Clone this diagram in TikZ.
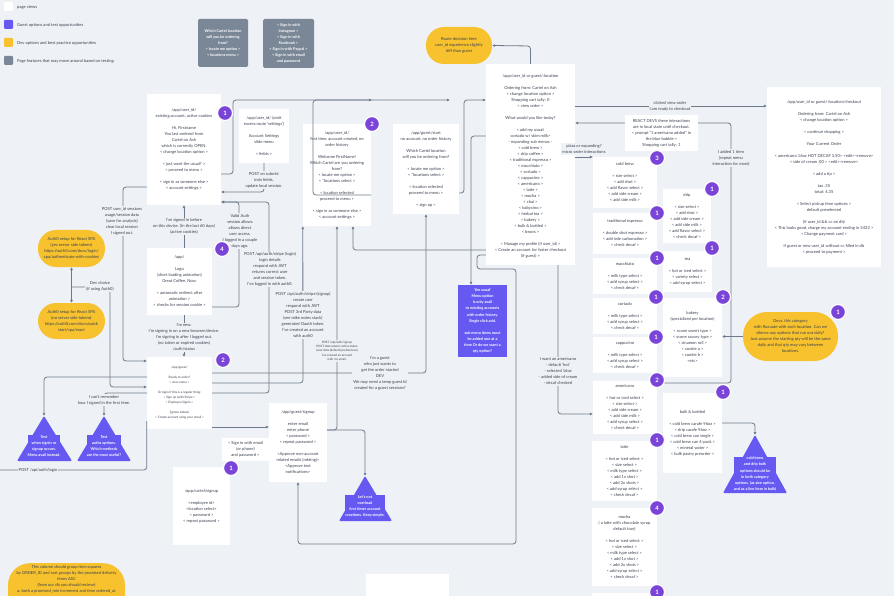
\documentclass[tikz,border=0pt]{standalone}
\usepackage{fontspec}
\setmainfont{Lato}
\usepackage{xcolor}
\usetikzlibrary{arrows.meta}
\definecolor{bgc}{HTML}{EEF1F5}
\definecolor{ink}{HTML}{3A4150}
\definecolor{wire}{HTML}{6C7A8B}
\definecolor{slate}{HTML}{7A8797}
\definecolor{guestp}{HTML}{6659F2}
\definecolor{devy}{HTML}{F7C22E}
\definecolor{badge}{HTML}{7A44D8}

\begin{document}
\begin{tikzpicture}[x=1pt,y=-1pt]
	\tikzstyle{every node}=[align=center,inner sep=0pt,text=ink,font=\fontsize{4.1}{6}\selectfont]
	\tikzstyle{page}=[fill=white]
	\tikzstyle{feat}=[fill=slate,rounded corners=1.5pt,text=white,font=\bfseries\fontsize{3.8}{6}\selectfont]
	\tikzstyle{dev}=[fill=devy]
	\tikzstyle{guest}=[fill=guestp,text=white,font=\bfseries\fontsize{3.8}{6.1}\selectfont]
	\tikzstyle{num}=[circle,fill=badge,draw=white,line width=1.2pt,minimum size=15pt,text=white,font=\bfseries\fontsize{6}{6}\selectfont]
	\tikzstyle{wire}=[draw=wire,line width=0.8pt,rounded corners=3pt,-{Latex[length=3pt,width=3pt]}]
	\tikzstyle{lab}=[fill=bgc,inner sep=1pt]
	\tikzstyle{small}=[font=\fontsize{3.1}{5}\selectfont]
	\tikzstyle{fine}=[font=\fontsize{3}{4.3}\selectfont]
	%\tikzstyle{shadow}=[drop shadow]
	\clip (0,0) rectangle (894,596);
	\fill[bgc] (0,0) rectangle (894,596);

	% legend
	\node[page,minimum size=9pt,rounded corners=1pt] (k1) at (8.5,6.5) {};
	\node[anchor=west] (k1t) at (17,7.5) {page views};
	\node[guest,minimum size=9pt,rounded corners=1pt] (k2) at (8.5,24.5) {};
	\node[anchor=west] (k2t) at (17,25.5) {Guest options and test opportunities};
	\node[dev,minimum size=9pt,rounded corners=1pt] (k3) at (8.5,42.5) {};
	\node[anchor=west] (k3t) at (17,43.5) {Dev options and best practice opportunities};
	\node[fill=slate,minimum size=9pt,rounded corners=1pt] (k4) at (8.5,60.5) {};
	\node[anchor=west] (k4t) at (17,61.5) {Page features that may move around based on testing.};

	\node[feat,minimum width=50pt,minimum height=48pt] (f1) at (223,43) {Which Cartel location\\will you be ordering\\from?\\< locate me option >\\< locations menu >};
	\node[feat,minimum width=51pt,minimum height=49pt] (f2) at (288.5,43.5) {< Sign in with\\Instagram >\\< Sign in with\\Facebook >\\< Sign in with Paypal >\\< Sign in with email\\and password};
	\node[dev,rounded corners=18pt,minimum width=66pt,minimum height=37pt] (route) at (459,45.5) {Route decision here\\user\_id experience slightly\\diff than guest};

	% pages
	\node[page,minimum width=74pt,minimum height=111pt] (usr) at (184,149.5) {/app/user\_id/\\existing account, active cookies\\[6pt]Hi, Firstname\\You last ordered from\\Cartel on Ash\\which is currently OPEN.\\< change location option >\\[6pt]< just want the usual? >\\< proceed to menu >\\[6pt]< sign in as someone else >\\< account settings >};
	\node[page,minimum width=50pt,minimum height=54pt] (set) at (264,136) {/app/user\_id/ (omit\\excess route `settings')\\[6pt]Account Settings\\slide menu\\[6pt]< fields >};
	\node[page,minimum width=68pt,minimum height=102pt] (fst) at (337,175) {/app/user\_id/\\first time, account created, no\\order history\\[6pt]Welcome FirstName!\\Which Cartel are you ordering\\from?\\< locate me option >\\< *locations select >\\[6pt]< location selected\\proceed to menu >\\[6pt]< sign in as someone else >\\< account settings >};
	\node[page,minimum width=66pt,minimum height=90pt] (gsb) at (426,169) {/app/guest/start\\no account, no order history\\[6pt]Which Cartel location\\will you be ordering from?\\[6pt]< locate me option >\\< *locations select >\\[6pt]< location selected\\proceed to menu >\\[6pt]< sign up >};
	\node[page,minimum width=89pt,minimum height=201pt] (loc) at (530.5,164.5) {\mbox{}\\/app/user\_id or guest/:location\\[6pt]Ordering from: Cartel on Ash\\< change location option >\\Shopping cart tally: 0\\< view order >\\[6pt]What would you like today?\\[6pt]< add my usual:\\cortado w/ skim milk>\\- expanding sub menus -\\< cold brew >\\< drip coffee >\\< traditional espresso >\\< macchiato >\\< cortado >\\< cappucino >\\< americano >\\< latte >\\< mocha >\\< chai >\\< babycino >\\< herbal tea >\\< bakery >\\< bulk \& bottled >\\< beans >\\[6pt]< Manage my profile (if user\_id) >\\< Create an account for faster checkout\\(if guest) >};
	\node[page,minimum width=114pt,minimum height=180pt] (chk) at (824,177) {/app/user\_id or guest/:location/checkout\\[6pt]Ordering from: Cartel on Ash\\< change location option >\\[6pt]< continue shopping >\\[6pt]Your Current Order\\[6pt]< americano 16oz HOT DECAF 3.50> <edit><remove>\\< side of cream .00 > <edit><remove>\\[6pt]< add a tip >\\[6pt]tax .35\\total: 4.35\\[6pt]< Select pickup time options >\\default preselected\\[6pt](if user\_id \&\& cc on db)\\< This looks good, charge my account ending in 5432 >\\< Change payment card >\\[6pt]if guest or new user\_id without cc filled in db\\< proceed to payment >};
	\node[page,minimum width=65pt,minimum height=67pt] (logo) at (179.5,281.5) {/app/\\[6pt]Logo\\(short loading animation)\\Great Coffee, Now.\\[6pt]< automatic redirect after\\animation >\\< checks for session cookie >};
	\node[page,small,minimum width=65pt,minimum height=72pt] (gst) at (179.5,393) {/app/guest/\\[5pt]Ready to order?\\< view menu >\\[5pt]Or login if this is a regular thing:\\< Sign up (with Stripe >\\< Employee Signin >\\[5pt](Ignore below)\\< Create account using your email >};
	\node[page,minimum width=58pt,minimum height=79pt] (gsu) at (298,442.5) {/app/guest/signup\\[6pt]enter email\\enter phone\\< password >\\< repeat password >\\[6pt]<Approve non-account\\related emails (mkting)>\\<Approve text\\notifications>};
	\node[page,minimum width=57pt,minimum height=78pt] (csu) at (201.5,506) {/app/cartel/signup\\[6pt]<employee id>\\<location select>\\< password >\\< repeat password >};
	\node[page,minimum width=47pt,minimum height=23pt] (sgn) at (245.5,449.5) {< Sign in with email\\(or phone)\\and password >};
	\node[guest,minimum width=49pt,minimum height=72pt] (usual) at (482.5,321) {'the usual'\\Menu option\\is only avail\\to existing accounts\\with order history.\\Single click add.\\[6pt]sub menu items must\\be added one at a\\time Or do we want a\\qty option?};
	\node[page,minimum width=83pt,minimum height=40pt,anchor=north west] (blank) at (366,574) {};

	% menu items
	\node[page,minimum width=64pt,minimum height=51pt] (cold) at (625,182.5) {cold brew\\[6pt]< size select >\\< add shot >\\< add flavor select >\\< add side cream >\\< add side milk >};
	\node[page,minimum width=64pt,minimum height=41pt] (trad) at (625,233.5) {traditional espresso\\[6pt]< double shot espresso >\\< add side carbonation >\\< check decaf >};
	\node[page,minimum width=64pt,minimum height=36pt] (mac) at (625,276) {macchiato\\[6pt]< milk type select >\\< add syrup select >\\< check decaf >};
	\node[page,minimum width=64pt,minimum height=36pt] (cort) at (625,316) {cortado\\[6pt]< milk type select >\\< add syrup select >\\< check decaf >};
	\node[page,minimum width=64pt,minimum height=36pt] (capp) at (625,355) {cappucino\\[6pt]< milk type select >\\< add syrup select >\\< check decaf >};
	\node[page,minimum width=64pt,minimum height=53pt] (amer) at (625,407.5) {americano\\[6pt]< hot or iced select >\\< size select >\\< add side cream >\\< add side milk >\\< add syrup select >\\< check decaf >};
	\node[page,minimum width=65pt,minimum height=60pt] (latte) at (624.5,471) {latte\\[6pt]< hot or iced select >\\< size select >\\< milk type select >\\< add 1x shot >\\< add 2x shots >\\< add syrup select >\\< check decaf >};
	\node[page,minimum width=65pt,minimum height=78pt] (mocha) at (624.5,547) {mocha\\( a latte with chocolate syrup\\default true)\\[6pt]< hot or iced select >\\< size select >\\< milk type select >\\< add 1x shot >\\< add 2x shots >\\< add syrup select >\\< check decaf >};
	\node[page,minimum width=65pt,minimum height=30pt,anchor=north west] (more) at (592,593) {};
	\node[page,minimum width=48pt,minimum height=54pt] (drip) at (687,216) {drip\\[6pt]< size select >\\< add shot >\\< add side cream >\\< add side milk >\\< add flavor select >\\< check decaf >};
	\node[page,minimum width=49pt,minimum height=41pt] (tea) at (687.5,271.5) {tea\\[6pt]< hot or iced select >\\< variety select >\\< add syrup select >};
	\node[page,minimum width=59pt,minimum height=79pt] (bak) at (692.5,337.5) {bakery\\(specialized per location)\\[6pt]< scone sweet type >\\< scone savory type >\\< cinamon roll >\\< cookie a >\\< cookie b >\\<etc>};
	\node[page,minimum width=59pt,minimum height=80pt] (bulk) at (692.5,433) {bulk \& bottled\\[6pt]< cold brew carafe 96oz >\\< drip carafe 96oz >\\< cold brew can single >\\< cold brew can 4-pack >\\< mineral water >\\< bulk pastry preorder >};

	% dev notes
	\node[dev,rounded corners=18pt,minimum width=67pt,minimum height=37pt] (pa1) at (71.5,248.5) {Auth0 setup for React SPA\\(yes server side tokens)\\https://auth0.com/docs/login/\\spa/authenticate-with-cookies};
	\node[dev,rounded corners=18pt,minimum width=67pt,minimum height=36pt] (pa2) at (71.5,321) {Auth0 setup for React SPA\\(no server side tokens)\\https://auth0.com/docs/quick\\start/spa/react};
	\node[dev,rounded corners=24pt,minimum width=95pt,minimum height=49pt] (devs) at (790.5,336.5) {Devs, this category\\with fluxuate with each location. Can we\\silence any options that run out daily?\\Just assume the starting qty will be the same\\daily and that qty may vary between\\locations.};
	\node[dev,rounded corners=22pt,minimum width=117pt,inner ysep=2.5pt,anchor=north] (col) at (66.5,563) {This column should group item squares\\by ORDER\_ID and sort groups by the promised delivery\\times ASC\\(from our db you should recieve)\\a. both a promised\_min increment and time ordered\_at\\[14pt]};

	% test triangles
	\coordinate (t1) at (44,416);
	\coordinate (t2) at (104,416);
	\coordinate (ts) at (365,476);
	\coordinate (tb) at (755,435);
	\fill[guestp,rounded corners=1pt] (t1) -- (72,461) -- (17,461) -- cycle;
	\fill[guestp,rounded corners=1pt] (t2) -- (131,461) -- (77,461) -- cycle;
	\fill[guestp,rounded corners=1pt] (ts) -- (392,521) -- (339,521) -- cycle;
	\fill[guestp,rounded corners=1pt] (tb) -- (787,493) -- (723,493) -- cycle;
	\node[guest] (t1t) at (44,446) {Test\\when signin or\\signup occurs.\\Menu avail instead.};
	\node[guest] (t2t) at (104,446) {Test\\auths options.\\Which methods\\are the most useful?};
	\node[guest] (tst) at (365,506) {Let's not\\overload\\first timer account\\creations. Keep simple.};
	\node[guest] (tbt) at (755,474) {cold brew\\and drip bulk\\options should be\\in both category\\options. (as size option,\\and as a line item in bulk)};

	% connectors
	\coordinate (e1) at (372,100);
	\coordinate (e2) at (450,100);
	\coordinate (dc) at (71.5,287);
	\coordinate (lg) at (0,470);
	\draw[wire] (usr.east |- 0,174) -- (233,174) -- (233,100) -- (e1);
	\draw[wire] (fst.east |- 0,195) -- (313,195) -- (313,100) -- (e2);
	\draw[wire] (gsb.east |- 0,193) -- (464,193) -- (464,100) -- (loc.west |- 0,100);
	\draw[wire] (set.south) -- (264,192) -- (usr.east |- 0,192);
	\draw[wire] (usr.west |- 0,187) -- (123,187) -- (123,361) -- (gst.west |- 0,361);
	\draw[wire] (usr.south |- logo.north) -- (usr.south);
	\draw[wire] (usr.south |- logo.south) -- (usr.south |- gst.north);
	\draw[wire] (logo.east |- 0,307) -- (239,307) -- (239,202) -- (usr.east |- 0,202);
	\draw[wire] (gst.east |- 0,393) -- (269,393) -- (269,202) -- (usr.east |- 0,202);
	\draw[wire] (gst.east |- 0,383) -- (303,383) -- (fst.south west);
	\draw[wire] (gst.east |- 0,373) -- (426,373) -- (gsb.south);
	\draw[wire] (loc.west |- 0,250) -- (353,250) -- (fst.south -| 353,0);
	\draw[wire] (loc.west |- 0,136) -- (471,136) -- (usual.north -| 471,0);
	\draw[wire] (loc.west |- 0,255) -- (477,255) -- (477,269) -- (516,269) -- (516,544) -- (298,544) -- (gsu.south);
	\draw[wire] (gsu.east |- 0,430) -- (337,430) -- (fst.south -| 337,0);
	\draw[wire] (gsu.east |- 0,430) -- (365,430) -- (ts);
	\draw[wire] (gst.east |- 0,427) -- (gsu.west |- 0,427);
	\draw[wire,{Latex[length=3pt,width=3pt]}-{Latex[length=3pt,width=3pt]}] (pa1.south) -- (pa2.north);
	\draw[wire] (dc) -- (110,287) -- (110,387) -- (gst.west |- 0,387);
	\draw[wire] (gst.west |- 0,377) -- (44,377) -- (t1);
	\draw[wire] (gst.west |- 0,393) -- (104,393) -- (t2);
	\draw[wire,-] (gst.west |- 0,421) -- (gst.west |- 0,470) -- (lg);
	\draw[wire] (loc.north) -- (530.5,46) -- (route.east);
	\draw[wire] (loc.east |- 0,106) -- (chk.west |- 0,106);
	\draw[wire] (amer.east |- 0,383) -- (731,383) -- (731,123) -- (loc.east |- 0,123);
	\draw[wire] (loc.east |- 0,157) -- (cold.west |- 0,157);
	\draw[wire] (loc.south -| 558,0) -- (558,414) -- (amer.west |- 0,414);
	\draw[wire] (devs.west) -- (bak.east |- devs.west);
	\draw[wire] (bulk.east |- 0,423) -- (755,423) -- (tb);

	% labels on connectors
	\node[page,minimum width=73pt,minimum height=36pt] (rct) at (661.5,133) {REACT DEVS these interactions\\are in local state until checkout.\\< prompt "1 americano added" in\\the blue bubble >\\Shopping cart tally: 1};
	\node[lab] (l4) at (264,180) {POST on submit:\\indx fields,\\update local session.};
	\node[lab] (l5) at (122,221) {POST user\_id sessions\\usage/session data\\(save for analysis)\\clear local session\\I signed out.};
	\node[lab] (l6) at (184,226.5) {I've signed in before\\on this device. (In the last 60 days)\\(active cookies)};
	\node[lab] (l7) at (240,231) {Valid Auth\\session allows\\allows direct\\user access.\\I logged in a couple\\days ago.};
	\node[lab] (l8) at (270,269.5) {POST /api/auth/stripe (login)\\login details\\respond with JWT\\returns correct user\\and  session token.\\I've logged in with auth0.};
	\node[lab] (l9) at (303,315) {POST /api/auth/stripe (signup)\\create user\\respond with JWT\\POST 3rd Party data\\(see mike notes stack)\\generated Oauth token.\\I've created an account\\with auth0};
	\node[lab,fine] (l14) at (337,351) {POST /api/auth/signup\\POST data returns active token\\(user data (default) preferences)\\I've created an account\\with my email.};
	\node[lab] (l10) at (380,373) {I'm a guest\\who just wants to\\get the order started\\DEV\\We may need a temp guest Id\\created for a guest sessions?};
	\node[lab] (lnew) at (184,337.5) {I'm new.\\I'm signing in on a new browser/device.\\I'm signing in after I logged out.\\(no token or expired cookies)\\/auth/status};
	\node[lab] (l17) at (100,286) {Dev choice\\(if using Auth0)};
	\node[lab] (l19) at (104,400) {I can't remember\\how I signed in the first time.};
	\node[lab] (l20) at (38,470.5) {POST /api/auth/login};
	\node[lab] (l22) at (670,106) {clicked view order\\I am ready to checkout};
	\node[lab] (l23) at (731,158) {I added 1 item\\(repeat menu\\interaction for more)};
	\node[lab] (l24) at (584,149) {pizza or expanding?\\micro order interactions};
	\node[lab] (l25) at (558,371.5) {I want an americano\\- default 'hot'\\- selected 16oz\\- added side of cream\\- decaf checked};

	% step numbers
	\node[num] (b1) at (225,113) {1};
	\node[num] (b2) at (372,124) {2};
	\node[num] (b4) at (222,249) {4};
	\node[num] (b2g) at (223,360) {2};
	\node[num] (b1s) at (231,468) {1};
	\node[num] (b3) at (657,158) {3};
	\node[num] (bcold) at (657,213) {1};
	\node[num] (btrad) at (657,258) {1};
	\node[num] (bdrip) at (712,189) {1};
	\node[num] (btea) at (712,248) {1};
	\node[num] (bmac) at (656,297) {1};
	\node[num] (bcort) at (656,337) {1};
	\node[num] (bcapp) at (657,380) {2};
	\node[num] (bamer) at (657,440) {1};
	\node[num] (bbak) at (723,297) {2};
	\node[num] (bbulk) at (723,392) {1};
	\node[num] (blatte) at (657,508) {4};
	\node[num] (bmocha) at (657,592) {1};
	\node[num] (bdevs) at (838,312) {1};
	\end{tikzpicture}
\end{document}
